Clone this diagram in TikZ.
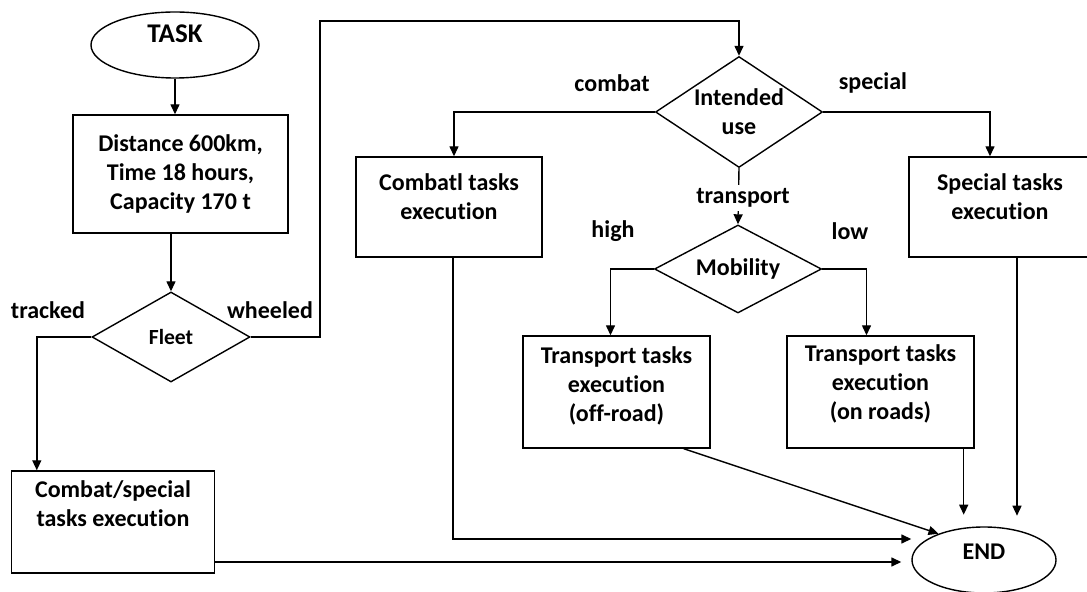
\documentclass[tikz,border=0pt]{standalone}
\usepackage{fontspec}
\setmainfont{Carlito}[Ligatures=NoCommon]
\usetikzlibrary{arrows.meta, positioning, shapes.geometric}

\tikzset{
    taskbox/.style={draw, rectangle, line width=0.7pt, align=center, inner sep=2pt},
    decision/.style={draw, diamond, line width=0.7pt, align=center, inner sep=0pt},
    terminal/.style={draw, ellipse, line width=0.7pt, inner sep=0pt},
    flow/.style={-{Triangle[length=5pt,width=4.5pt]}, line width=0.7pt},
    branch/.style={inner sep=0pt},
}

\begin{document}
\begin{tikzpicture}[x=0.5pt, y=-0.5pt, font=\bfseries\fontsize{12}{14.5}\selectfont]
    \useasboundingbox (0,0) rectangle (1087,592);

    % Start and input data
    \node[terminal, minimum width=84pt, minimum height=33pt, text depth=11pt,
          font=\bfseries\fontsize{13.5}{16}\selectfont] (task) at (175,45) {TASK};
    \node[taskbox, minimum width=107.5pt, minimum height=59pt] (data) at (180.5,174)
        {Distance 600km,\\Time 18 hours,\\Capacity 170 t};

    % Fleet decision
    \node[decision, shape aspect=1.75, minimum width=79pt, minimum height=45pt,
          font=\bfseries\fontsize{10.8}{13}\selectfont] (fleet) at (171,337) {Fleet};
    \node[taskbox, minimum width=101.5pt, minimum height=51pt, text depth=18pt] (mixed) at (113,522)
        {Combat/special\\tasks execution};

    % Intended use decision
    \node[decision, shape aspect=1.5, minimum width=83.5pt, minimum height=55.5pt] (use) at (739,112)
        {Intended\\use};
    \node[taskbox, minimum width=93pt, minimum height=50pt, text depth=10pt] (combat) at (449,207)
        {Combatl tasks\\execution};
    \node[taskbox, minimum width=91pt, minimum height=50pt, text depth=10pt] (special) at (1000,207)
        {Special tasks\\execution};

    % Mobility decision
    \node[decision, shape aspect=1.9, minimum width=83.5pt, minimum height=44pt] (mob) at (738,269)
        {Mobility};
    \node[taskbox, minimum width=93.5pt, minimum height=56pt, text depth=8pt] (offroad) at (616.5,392)
        {Transport tasks\\execution\\(off-road)};
    \node[taskbox, minimum width=93.5pt, minimum height=56pt, text depth=10pt] (onroad) at (880.5,392)
        {Transport tasks\\execution\\(on roads)};

    % End
    \node[terminal, minimum width=72pt, minimum height=33pt, text depth=8pt,
          font=\bfseries\fontsize{12}{14}\selectfont] (end) at (984,560) {END};

    % Main flow
    \draw[flow] (task.south) -- (task.south |- data.north);
    \draw[flow] (fleet.north |- data.south) -- (fleet.north);
    \draw[flow] (fleet.west) -| ([xshift=13pt]mixed.north west);
    \coordinate (turn) at (320,21);
    \draw[flow] (fleet.east) -| (turn) -| (use.north);
    \draw[flow] (use.west) -| ([xshift=2.5pt]combat.north);
    \draw[flow] (use.east) -| ([xshift=-5pt]special.north);
    \draw[flow] (use.south) -- (mob.north);
    \draw[flow] (mob.west) -| ([xshift=-3pt]offroad.north);
    \draw[flow] (mob.east) -| ([xshift=-7pt]onroad.north);

    % Into END
    \draw[flow] ([xshift=-13.5pt]offroad.south east) -- (end.150);
    \draw[flow] ([xshift=-5.5pt]onroad.south east) -- ++(0,66);
    \draw[flow] ([xshift=8.5pt]special.south) -- ++(0,258);
    \draw[flow] ([xshift=2pt]combat.south) |- ([yshift=10.5pt]end.west);
    \draw[flow] ([yshift=-20pt]mixed.east) -- ([xshift=-5pt,yshift=-1pt]end.west);

    % Branch labels
    \node[branch] (tracked) at (48,310) {tracked};
    \node[branch] (wheeled) at (270,310) {wheeled};
    \node[branch] (combatlbl) at (612,83) {combat};
    \node[branch] (speciallbl) at (873,83) {special};
    \node[branch, fill=white, inner sep=2pt] (transport) at (743,198) {transport};
    \node[branch] (high) at (613,231) {high};
    \node[branch] (low) at (850,231) {low};
\end{tikzpicture}
\end{document}
